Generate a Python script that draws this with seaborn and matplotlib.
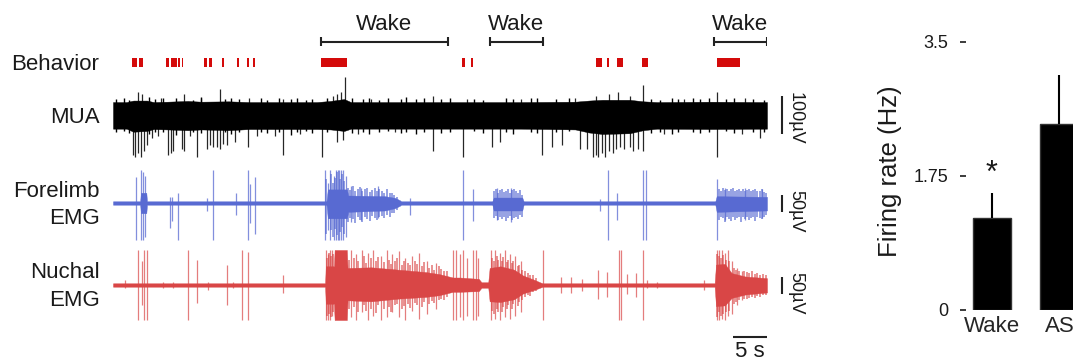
import numpy as np
import matplotlib
matplotlib.use('Agg')
import matplotlib.pyplot as plt
import seaborn as sns

# ── Data ──────────────────────────────────────────────────────────────────────
# time in seconds (whole trace ~96 s), amplitudes in microvolts
rec_len = 96.2

beh_start = [2.75, 3.87, 7.75, 8.53, 9.56, 10.1, 13.38, 14.16, 15.99, 18.19, 19.66, 20.54,
             30.59, 51.37, 52.6, 71.03, 72.6, 74.16, 77.79, 88.78]
beh_end = [3.49, 4.37, 8.24, 9.37, 9.85, 10.34, 13.78, 14.56, 16.32, 18.57, 19.96, 20.93,
           34.37, 51.76, 52.99, 71.87, 72.99, 74.96, 78.63, 92.21]

wake_start = [30.59, 55.44, 88.38]
wake_end = [49.26, 63.24, 96.18]

# MUA: body envelope, fringe, and discrete spikes
mua_env_t = [0, 2, 3, 5, 6, 8, 11, 13, 17, 20, 30, 32, 34, 35, 45, 60, 68, 70, 72, 76, 78, 80, 88, 96.2]
mua_env_up = [34, 34, 38, 38, 34, 35, 37, 35, 36, 34, 34, 37, 42, 34, 34, 34, 35, 38, 40, 40, 36, 34, 35, 34]
mua_env_dn = [36, 36, 44, 42, 37, 38, 40, 38, 40, 37, 37, 38, 42, 36, 36, 36, 38, 46, 50, 48, 40, 36, 37, 36]
mua_fr_t = [0.5, 1.6, 2.4, 5.3, 6.2, 7.4, 9.2, 11.8, 12.9, 16.5, 17.3, 18.6, 21.8, 22.7, 24.4,
            26.2, 27.0, 28.4, 29.3, 31.5, 35.2, 36.8, 37.6, 39.2, 40.5, 42.3, 43.1, 44.6, 45.8,
            48.2, 49.6, 53.1, 54.4, 57.8, 58.9, 61.5, 62.4, 65.2, 67.1, 79.2, 80.4, 82.2, 83.1,
            85.3, 86.4, 87.6, 90.1, 91.4, 94.2, 95.8]
mua_fr_up = [42, 45, 40, 48, 42, 46, 44, 40, 47, 43, 45, 41, 44, 40, 46, 42, 45, 40, 43, 44,
             46, 41, 44, 40, 45, 42, 47, 41, 44, 42, 46, 43, 40, 45, 42, 44, 46, 41, 45, 43,
             40, 46, 42, 44, 41, 45, 43, 46, 42, 40]
mua_fr_dn = [45, 42, 48, 50, 44, 46, 52, 45, 48, 44, 50, 46, 45, 48, 44, 52, 46, 42, 47, 45,
             48, 44, 50, 46, 43, 48, 45, 50, 44, 47, 45, 42, 48, 46, 50, 44, 47, 45, 42, 48,
             45, 50, 44, 46, 48, 45, 43, 47, 44, 46]
mua_dn_t = [2.9, 3.3, 3.7, 4.1, 4.6, 5.0, 5.7, 6.6, 8.1, 8.5, 8.8, 10.1, 10.5, 11.3, 12.4,
            13.8, 14.3, 14.7, 15.3, 15.8, 16.2, 16.8, 17.9, 19.9, 21.2, 23.8, 25.0, 27.5,
            30.7, 33.0, 33.8, 36.0, 41.5, 47.1, 51.5, 55.7, 56.9, 63.1, 64.6, 66.0, 68.7, 69.7,
            70.6, 71.0, 71.4, 71.9, 72.4, 72.9, 73.5, 74.0, 74.6, 75.1, 76.0, 76.5, 77.2, 77.9,
            81.0, 88.8, 92.5, 95.1]
mua_dn_amp = [105, 110, 100, 110, 95, 80, 60, 55, 105, 100, 95, 90, 95, 55, 110,
              90, 80, 85, 85, 90, 75, 80, 70, 85, 55, 55, 105, 50,
              110, 70, 65, 50, 45, 95, 110, 85, 70, 105, 85, 80, 90, 90,
              110, 105, 110, 100, 110, 95, 100, 90, 85, 90, 85, 95, 90, 95,
              50, 110, 50, 60]
mua_up_t = [3.7, 4.2, 7.0, 10.4, 13.0, 15.7, 20.0, 25.0, 32.4, 32.9, 33.5, 34.1, 38.0,
            47.1, 52.0, 60.0, 68.0, 71.0, 73.0, 74.3, 76.0, 77.9, 84.0, 88.8, 93.0]
mua_up_amp = [60, 55, 45, 55, 45, 68, 45, 42, 50, 55, 60, 100, 42,
              50, 42, 42, 45, 50, 55, 60, 50, 80, 42, 60, 45]

# Forelimb EMG: core envelope + spikes
fl_env_t = [0, 4.0, 4.1, 4.9, 5.0, 31.4, 31.6, 34.4, 34.6, 40.0, 41.5, 42.2, 42.4,
            55.8, 56.0, 60.2, 60.4, 88.6, 88.8, 96.2]
fl_env_up = [5, 5, 30, 30, 5, 5, 40, 40, 22, 20, 15, 8, 5, 5, 16, 16, 5, 5, 20, 18]
fl_env_dn = [5, 5, 30, 30, 5, 5, 45, 45, 26, 22, 15, 8, 5, 5, 22, 22, 5, 5, 26, 22]
fl_spk_t = [3.4, 4.1, 4.4, 4.7, 8.4, 8.7, 9.6, 13.8, 14.7, 18.1, 19.85, 20.1, 20.9,
            31.2, 31.6, 31.9, 32.5, 32.8, 33.1, 33.3, 33.6, 33.9, 34.2, 35.0, 36.5, 39.0, 43.7,
            51.5, 52.9, 56.5, 58.5, 71.6, 72.8, 74.1, 77.9, 78.4, 88.8, 90.0, 93.0, 95.5]
fl_spk_up = [76, 97, 90, 80, 18, 18, 29, 15, 97, 29, 97, 55, 76,
             97, 60, 97, 80, 97, 97, 97, 97, 97, 80, 50, 45, 50, 15,
             97, 41, 45, 45, 12, 97, 29, 97, 97, 71, 45, 45, 40]
fl_spk_dn = [109, 109, 109, 100, 74, 53, 109, 24, 109, 35, 109, 60, 91,
             109, 80, 109, 109, 109, 109, 109, 109, 109, 100, 55, 50, 45, 35,
             109, 53, 50, 55, 24, 109, 50, 109, 109, 109, 50, 50, 45]
fl_burst_t = [31.4, 32.1, 32.3, 32.65, 32.95, 33.45, 33.75, 34.05,
              34.6, 34.9, 35.3, 35.6, 36.0, 36.3, 36.7, 37.0, 37.4, 37.8, 38.1, 38.5, 38.8,
              39.2, 39.6, 39.9, 40.3, 40.7, 41.0, 41.4, 41.8,
              56.0, 56.3, 56.6, 56.9, 57.2, 57.5, 57.8, 58.1, 58.4, 58.7, 59.0, 59.3, 59.6, 59.9, 60.2,
              89.1, 89.4, 89.7, 90.0, 90.3, 90.6, 90.9, 91.2, 91.5, 91.8, 92.1, 92.4, 92.7, 93.0,
              93.3, 93.6, 93.9, 94.2, 94.5, 94.8, 95.1, 95.4, 95.7, 96.0]
fl_burst_up = [70, 85, 60, 75, 90, 70, 85, 65,
               45, 38, 50, 35, 42, 48, 36, 40, 45, 33, 38, 44, 36, 40, 35, 30, 42, 28, 30, 25, 18,
               35, 40, 30, 38, 42, 32, 36, 40, 30, 38, 42, 35, 30, 38, 25,
               40, 35, 45, 38, 42, 36, 40, 44, 35, 38, 42, 36, 40, 34, 38, 42, 35, 38, 40, 34,
               36, 40, 32, 30]
fl_burst_dn = [90, 80, 100, 75, 95, 85, 70, 90,
               55, 45, 48, 60, 42, 50, 55, 40, 48, 52, 38, 45, 50, 42, 38, 45, 35, 40, 30, 28, 20,
               45, 38, 50, 42, 48, 40, 52, 45, 38, 50, 45, 42, 48, 35, 40,
               50, 42, 45, 55, 40, 48, 52, 42, 50, 45, 40, 55, 42, 48, 40, 50, 45, 42, 52, 40,
               45, 48, 42, 35]

# Nuchal EMG: core envelope + spikes
nu_env_t = [0, 31.2, 31.3, 32.5, 32.6, 34.4, 34.5, 38, 42, 46, 48, 50, 51, 53.8, 54.2,
            55.2, 55.4, 57, 59, 60.3, 62, 62.8, 63.2, 88.5, 88.7, 90, 91, 93, 96.2]
nu_env_up = [5, 5, 55, 55, 103, 103, 50, 52, 45, 38, 32, 22, 22, 18, 8,
             8, 50, 55, 45, 28, 15, 8, 5, 5, 60, 62, 35, 25, 20]
nu_env_dn = [5, 5, 55, 55, 103, 103, 45, 48, 40, 35, 30, 20, 20, 18, 8,
             8, 48, 50, 42, 25, 14, 8, 5, 5, 62, 60, 38, 28, 22]
nu_spk_t = [1.8, 3.7, 4.3, 4.6, 5.0, 7.4, 8.8, 11.0, 12.4, 14.0, 16.8, 17.6, 19.0, 19.9, 25.0,
            31.3, 31.6, 31.9, 32.2, 35.0, 35.8, 36.6, 37.5, 38.3, 39.4, 40.3, 41.0, 42.0, 43.0,
            44.0, 45.0, 46.2, 47.5, 50.0, 50.5, 51.0, 51.5, 52.0, 52.9, 53.4, 53.7,
            55.6, 56.2, 56.9, 57.6, 58.4, 59.2, 60.0, 63.3, 65.9, 67.4, 69.0, 71.3, 72.6,
            74.4, 74.7, 75.6, 77.0, 77.9, 78.5, 80.0, 87.0, 88.8, 89.2, 89.6, 90.0, 90.4, 91.0, 91.8, 92.5]
nu_spk_up = [15, 103, 70, 103, 103, 8, 10, 103, 73, 8, 59, 10, 103, 97, 30,
             103, 90, 103, 103, 103, 90, 103, 95, 103, 85, 103, 90, 100, 80,
             85, 95, 70, 65, 103, 103, 90, 103, 80, 103, 103, 80,
             103, 103, 95, 103, 90, 85, 70, 103, 24, 24, 18, 44, 38,
             103, 103, 32, 35, 103, 15, 10, 15, 103, 103, 103, 95, 103, 70, 50, 40]
nu_spk_dn = [10, 103, 60, 103, 103, 10, 10, 103, 53, 15, 59, 10, 103, 103, 24,
             103, 103, 103, 90, 95, 103, 80, 103, 90, 103, 95, 80, 95, 103,
             75, 100, 85, 70, 103, 103, 95, 103, 90, 103, 103, 90,
             103, 100, 103, 95, 100, 90, 80, 103, 24, 24, 18, 41, 35,
             103, 103, 26, 35, 103, 10, 10, 15, 103, 103, 100, 103, 90, 85, 60, 45]
nu_burst_t = [31.45, 31.75, 32.05, 32.35,
              34.7, 35.4, 36.1, 36.9, 37.2, 37.9, 38.7, 39.0, 39.8, 40.6, 40.9, 41.5, 41.8, 42.5,
              42.8, 43.4, 43.7, 44.4, 44.7, 45.4, 45.7, 46.5, 46.9, 47.2, 47.9, 48.3, 48.7, 49.2,
              55.8, 56.0, 56.5, 56.7, 57.2, 57.4, 57.9, 58.1, 58.7, 58.9, 59.5, 59.7, 60.2,
              60.6, 61.0, 61.4, 61.8, 62.2,
              88.9, 89.1, 89.4, 89.8, 90.2, 90.6,
              91.3, 91.6, 92.1, 92.8, 93.2, 93.6, 94.0, 94.4, 94.8, 95.2, 95.6, 96.0]
nu_burst_up = [80, 95, 85, 90,
               75, 80, 70, 85, 65, 78, 70, 82, 68, 75, 62, 70, 80, 60,
               72, 65, 58, 70, 62, 55, 68, 50, 58, 45, 55, 48, 42, 40,
               80, 70, 85, 75, 70, 82, 68, 75, 65, 70, 55, 60, 45,
               40, 35, 30, 28, 20,
               90, 85, 80, 88, 75, 70,
               50, 45, 42, 40, 38, 35, 40, 32, 35, 30, 32, 28]
nu_burst_dn = [90, 85, 95, 80,
               70, 65, 80, 60, 75, 70, 82, 60, 72, 65, 78, 60, 55, 70,
               62, 55, 68, 52, 60, 65, 50, 55, 48, 52, 45, 40, 45, 35,
               75, 85, 70, 80, 78, 65, 72, 60, 70, 55, 62, 50, 45,
               35, 30, 32, 22, 18,
               95, 80, 90, 85, 80, 75,
               55, 50, 45, 42, 40, 38, 35, 38, 32, 35, 30, 28]

# firing rate summary
bar_labels = ['Wake', 'AS']
bar_means = [1.20, 2.42]
bar_sems = [0.32, 0.65]

# ── Figure ────────────────────────────────────────────────────────────────────
sns.set_style('white')
plt.rcParams['font.family'] = ['Liberation Sans', 'DejaVu Sans']
plt.rcParams['text.color'] = '#1a1a1a'

W, H = 1073, 362
fig = plt.figure(figsize=(W / 100, H / 100), dpi=100)

def fx(px):
    return px / W

def fy(py):
    return 1 - py / H

# trace panel: x in seconds, y in pixel rows (top = 0)
ax = fig.add_axes([fx(113), 0, 654 / W, 1])
ax.set_xlim(0, rec_len)
ax.set_ylim(H, 0)
ax.axis('off')

red = '#d40a0a'
blue = '#586ad2'
nred = '#d94646'

# behaviour marks + wake brackets
ax.broken_barh([(s, e - s) for s, e in zip(beh_start, beh_end)], (58, 9), color=red, lw=0)
for s, e in zip(wake_start, wake_end):
    ax.hlines(41.5, s, e, color='#222222', lw=1.5)
    ax.vlines([s, e], 37, 46, color='#222222', lw=1.5)
    ax.text((s + e) / 2, 30, 'Wake', ha='center', va='baseline', fontsize=16)

def draw_core(env_t, env_up, env_dn, off, gain, color):
    ax.fill_between(np.array(env_t), off - np.array(env_up) * gain, off + np.array(env_dn) * gain,
                    color=color, lw=0.3, edgecolor=color)

def draw_spikes(t, up, dn, off, gain, color, lw, alpha):
    ax.vlines(t, off - np.array(up) * gain, off + np.array(dn) * gain,
              color=color, lw=lw, alpha=alpha)

mua_off, mua_g = 115, 0.38
fl_off, fl_g = 203, 0.34
nu_off, nu_g = 285, 0.34

draw_core(mua_env_t, mua_env_up, mua_env_dn, mua_off, mua_g, 'black')
draw_spikes(mua_fr_t, mua_fr_up, mua_fr_dn, mua_off, mua_g, 'black', 1.0, 1)
ax.vlines(mua_dn_t, mua_off, mua_off + np.array(mua_dn_amp) * mua_g, color='black', lw=0.9, alpha=0.85)
ax.vlines(mua_up_t, mua_off, mua_off - np.array(mua_up_amp) * mua_g, color='black', lw=0.9, alpha=0.85)

draw_core(fl_env_t, fl_env_up, fl_env_dn, fl_off, fl_g, blue)
draw_spikes(fl_burst_t, fl_burst_up, fl_burst_dn, fl_off, fl_g, blue, 1.1, 0.8)
draw_spikes(fl_spk_t, fl_spk_up, fl_spk_dn, fl_off, fl_g, blue, 0.9, 0.75)

draw_core(nu_env_t, nu_env_up, nu_env_dn, nu_off, nu_g, nred)
draw_spikes(nu_burst_t, nu_burst_up, nu_burst_dn, nu_off, nu_g, nred, 1.1, 0.75)
draw_spikes(nu_spk_t, nu_spk_up, nu_spk_dn, nu_off, nu_g, nred, 0.9, 0.7)

# scale bars
bar_t = rec_len + 2.2
txt_t = rec_len + 4.2
for off, g, uv, lab in [(mua_off, mua_g, 100, '100µV'), (fl_off, fl_g, 50, '50µV'), (nu_off, nu_g, 50, '50µV')]:
    top = off - uv / 2 * g
    ax.vlines(bar_t, top, off + uv / 2 * g, color='#222222', lw=1.5, clip_on=False)
    ax.text(txt_t, top - 4, lab, rotation=270, rotation_mode='anchor',
            ha='left', va='center', fontsize=13, clip_on=False)
ax.hlines(336.5, rec_len - 5, rec_len, color='#222222', lw=1.5, clip_on=False)
ax.text(rec_len - 2.5, 357, '5 s', ha='center', va='baseline', fontsize=16)

# row labels
for txt, x, y in [('Behavior', 99, 70), ('MUA', 100, 123), ('Forelimb', 100, 197),
                  ('EMG', 100, 224), ('Nuchal', 100, 278), ('EMG', 100, 306)]:
    fig.text(fx(x), fy(y), txt, ha='right', va='baseline', fontsize=16)

# ── Firing rate bars ──────────────────────────────────────────────────────────
ax2 = fig.add_axes([fx(966), fy(310), 107 / W, (310 - 41.7) / H])
sns.barplot(x=bar_labels, y=bar_means, color='black', width=0.56, errorbar=None,
            saturation=1, edgecolor='#333333', linewidth=1, ax=ax2)
ax2.vlines(range(len(bar_means)), bar_means, np.array(bar_means) + np.array(bar_sems),
           color='black', lw=1.5)
ax2.text(0, bar_means[0] + bar_sems[0] + 0.06, '*', ha='center', va='bottom', fontsize=22)
ax2.set_xlim(-0.38, 1.2)
ax2.set_ylim(0, 3.5)
ax2.set_yticks([0, 1.75, 3.5], labels=['0', '1.75', '3.5'])
for s in ax2.spines.values():
    s.set_visible(False)
ax2.tick_params(axis='y', left=True, length=4, width=1.2, pad=9, labelsize=13, colors='#1a1a1a')
ax2.tick_params(axis='x', length=0, pad=4, labelsize=16)
ax2.set_xlabel('')
ax2.set_ylabel('')
fig.text(fx(890), fy(171.5), 'Firing rate (Hz)', rotation=90, ha='center', va='center', fontsize=18.5)

fig.savefig('out.png', dpi=100)
